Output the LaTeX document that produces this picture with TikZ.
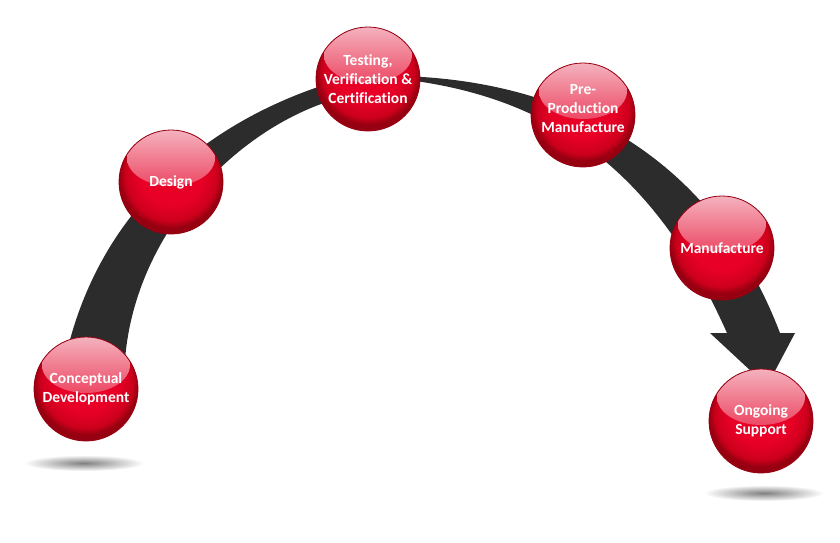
\documentclass[tikz,border=0pt]{standalone}
\usepackage{fontspec}
\setmainfont[Ligatures=CommonOff]{Carlito}
\usepackage{xcolor}
\usepackage{tikz}

\definecolor{band}{RGB}{44,44,44}
\definecolor{ballA}{RGB}{232,0,38}
\definecolor{ballB}{RGB}{205,0,28}
\definecolor{ballC}{RGB}{150,0,16}
\definecolor{hilite}{RGB}{244,178,190}
\pgfdeclareradialshading{redball}{\pgfpoint{0bp}{6bp}}{%
  color(0bp)=(ballA); color(15bp)=(ballA); color(22bp)=(ballB);
  color(25bp)=(ballC); color(50bp)=(ballC)}

\begin{document}
\begin{tikzpicture}[
    x=1pt, y=-1pt,
    ball/.style={circle, minimum size=104pt, inner sep=0pt, shade, shading=redball,
                 draw=ballC, line width=0.8pt, align=center, text=white,
                 font=\bfseries\fontsize{15.5}{19}\selectfont,
                 path picture={\shade[top color=hilite, bottom color=ballA,
                   middle color=ballA!55!hilite]
                   ([yshift=24pt]path picture bounding box.center)
                   ellipse [x radius=44pt, y radius=28pt];}},
    shadow/.style={inner color=black!50, outer color=white},
    arc/.style={fill=band}
]
\useasboundingbox (0,0) rectangle (840,542);

% Floor shadows
\shade[shadow] (84,463) ellipse [x radius=60pt, y radius=8pt];
\shade[shadow] (764,493) ellipse [x radius=60pt, y radius=8pt];

% Rising arc
\fill[arc] (65,360) .. controls (100,200) and (220,115) .. (340,80)
   -- (340,98) .. controls (240,125) and (135,230) .. (125,360) -- cycle;

% Falling arc with arrow
\fill[arc] (400,76) .. controls (560,80) and (710,150) .. (780,333)
   -- (795,333) -- (767,386) -- (710,333) -- (727,333)
   .. controls (650,160) and (540,95) .. (400,79) -- cycle;

% Stages
\node[ball] (concept) at (86,389)  {Conceptual\\Development};
\node[ball] (design)  at (171,182) {Design};
\node[ball] (test)    at (368,79)  {Testing,\\Verification \&\\Certification};
\node[ball, text depth=14pt] (preprod) at (583,115) {Pre-\\Production\\Manufacture};
\node[ball] (manuf)   at (722,248) {Manufacture};
\node[ball] (support) at (761,421) {Ongoing\\Support};

\end{tikzpicture}
\end{document}
